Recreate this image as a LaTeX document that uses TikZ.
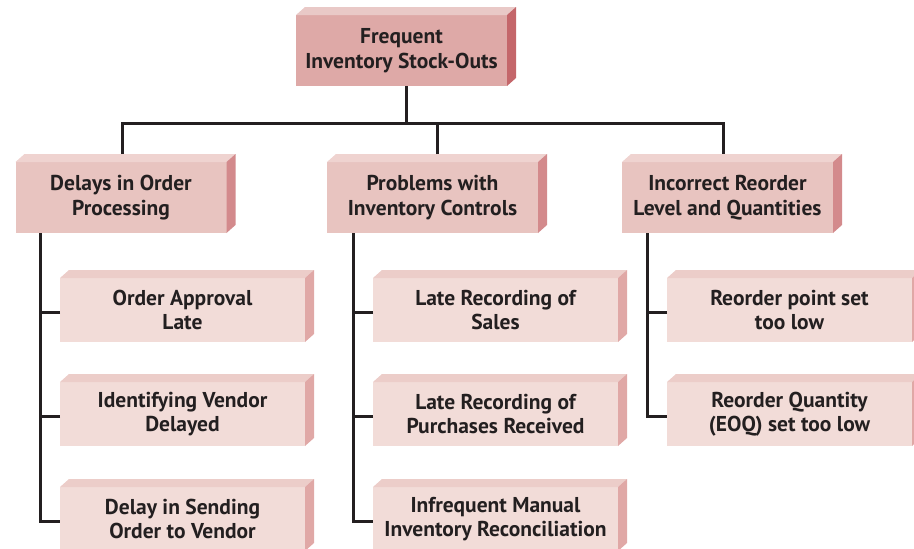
\documentclass[tikz,border=0pt]{standalone}
\usepackage{fontspec}
\setmainfont{PT Sans}
\begin{document}
\definecolor{ink}{HTML}{231F20}
\definecolor{rootfront}{HTML}{DEA9A7}
\definecolor{roottop}{HTML}{E9C9C7}
\definecolor{rootside}{HTML}{C4666A}
\definecolor{midfront}{HTML}{E8C4C0}
\definecolor{midtop}{HTML}{EFD3D0}
\definecolor{midside}{HTML}{D38A8C}
\definecolor{leaffront}{HTML}{F2DCD8}
\definecolor{leaftop}{HTML}{ECCDC9}
\definecolor{leafside}{HTML}{E0A8A6}
% extruded slab: top face and right face behind a node
\newcommand\slab[3]{%
  \fill[#2] (#1.north west) -- ++(9pt,8pt) -- ([shift={(9pt,8pt)}]#1.north east) -- (#1.north east) -- cycle;
  \fill[#3] (#1.north east) -- ++(9pt,8pt) -- ([shift={(9pt,8pt)}]#1.south east) -- (#1.south east) -- cycle;}
\begin{tikzpicture}[x=1pt,y=-1pt,
  box/.style={inner sep=0pt,outer sep=0pt,align=center,text=ink,
    font=\bfseries\fontsize{21.5}{24.5}\selectfont},
  rootbox/.style={box,fill=rootfront,minimum width=211pt,minimum height=71pt},
  midbox/.style={box,fill=midfront,minimum width=211pt,minimum height=71pt},
  leafbox/.style={box,fill=leaffront,minimum width=245pt,minimum height=64pt},
  link/.style={draw=ink,line width=3pt}]
\useasboundingbox (0,0) rectangle (914,549);

% boxes
\node[rootbox] (root) at (401.5,50.5) {Frequent\\Inventory Stock-Outs};
\slab{root}{roottop}{rootside}

\node[midbox] (delay) at (121,197.5) {Delays in Order\\Processing};
\node[midbox] (ctrl) at (432.5,197.5) {Problems with\\Inventory Controls};
\node[midbox] (level) at (727.5,197.5) {Incorrect Reorder\\Level and Quantities};
\slab{delay}{midtop}{midside}
\slab{ctrl}{midtop}{midside}
\slab{level}{midtop}{midside}

\node[leafbox] (approval) at (182.5,310) {Order Approval\\Late};
\node[leafbox] (vendor) at (182.5,414) {Identifying Vendor\\Delayed};
\node[leafbox] (sending) at (182.5,519) {Delay in Sending\\Order to Vendor};
\node[leafbox] (sales) at (495.5,310) {Late Recording of\\Sales};
\node[leafbox] (purch) at (495.5,414) {Late Recording of\\Purchases Received};
\node[leafbox] (recon) at (495.5,519) {Infrequent Manual\\Inventory Reconciliation};
\node[leafbox] (rop) at (789.5,310) {Reorder point set\\too low};
\node[leafbox] (eoq) at (789.5,414) {Reorder Quantity\\(EOQ) set too low};
\foreach \n in {approval,vendor,sending,sales,purch,recon,rop,eoq}{\slab{\n}{leaftop}{leafside}}

% connectors from the root to the three causes
\coordinate (bus) at (0,123);
\draw[link] ([xshift=4.5pt]root.south) -- ([xshift=4.5pt]root.south |- bus);
\draw[link] ([shift={(1pt,8pt)}]delay.north) -- ([xshift=1pt]delay.north |- bus)
  -- ([xshift=-4.5pt]level.north |- bus) -- ([shift={(-4.5pt,8pt)}]level.north);
\draw[link] ([shift={(4.5pt,8pt)}]ctrl.north) -- ([xshift=4.5pt]ctrl.north |- bus);

% spines and stubs to the sub-causes
\coordinate (sA) at ([xshift=25pt]delay.south west);
\coordinate (sB) at ([xshift=26pt]ctrl.south west);
\coordinate (sC) at ([xshift=25pt]level.south west);
\draw[link] (sA) |- ([yshift=-2pt]sending.west);
\draw[link] ([yshift=-2pt]approval.west) -- ([yshift=-2pt]approval.west -| sA);
\draw[link] ([yshift=-2pt]vendor.west) -- ([yshift=-2pt]vendor.west -| sA);
\draw[link] (sB) |- ([yshift=-2pt]recon.west);
\draw[link] ([yshift=-2pt]sales.west) -- ([yshift=-2pt]sales.west -| sB);
\draw[link] ([yshift=-2pt]purch.west) -- ([yshift=-2pt]purch.west -| sB);
\draw[link] (sC) |- ([yshift=-2pt]eoq.west);
\draw[link] ([yshift=-2pt]rop.west) -- ([yshift=-2pt]rop.west -| sC);
\end{tikzpicture}
\end{document}
